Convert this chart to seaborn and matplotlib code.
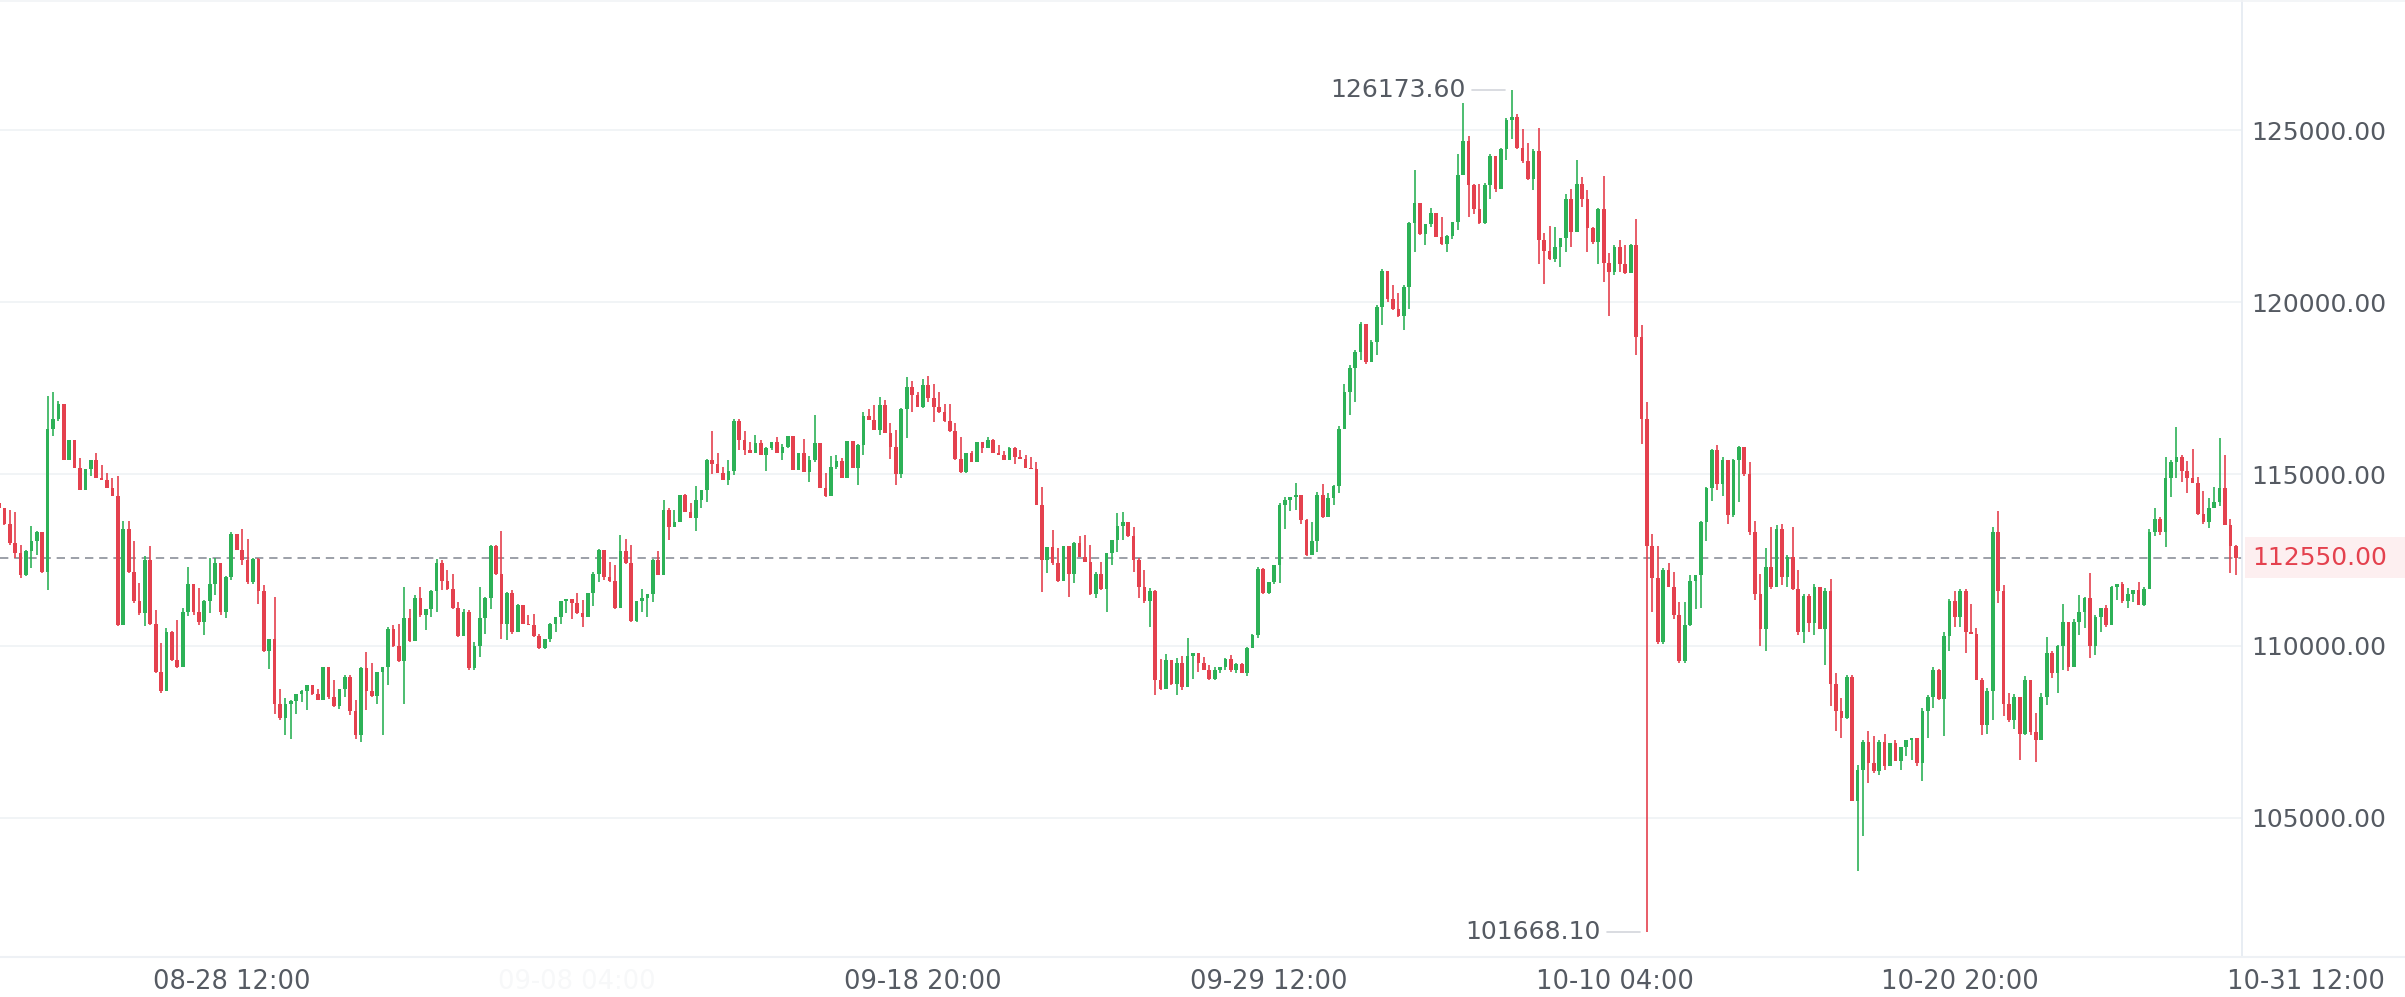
import numpy as np
import pandas as pd
import matplotlib
matplotlib.use("Agg")
import matplotlib.pyplot as plt
from matplotlib.lines import Line2D
from matplotlib.patches import Rectangle
from matplotlib.transforms import blended_transform_factory
import seaborn as sns

# ---------------- data (4h candles) ----------------
first_open = 114150
closes = [
114000,113560,113000,112700,112050,112750,113050,113300,112150,116300,
116600,117050,115420,116000,115180,114550,115150,115400,114900,114840,
114600,114360,110600,113400,112150,111300,110950,112500,110650,109250,
108700,110400,109600,109380,111000,111800,111000,110700,111300,111800,
112400,111000,112000,113250,112800,112500,111850,112540,111600,109850,
110200,108300,107900,108300,108400,108600,108700,108850,108600,108420,
109380,108500,108250,108750,109100,108100,107400,109350,108700,108550,
109240,109380,110500,110000,109550,110800,110150,111400,110900,111080,
111600,112400,111900,111650,111100,110300,111000,109350,110000,110800,
111400,112900,112100,110650,111550,110400,111200,110650,110600,110280,
109930,110200,110650,110840,111300,111370,111250,110950,110850,111540,
112100,112800,112000,111900,111100,112750,112400,110720,111300,111400,
111520,112500,112060,113950,113450,113600,114380,113910,113710,114250,
114530,115400,115300,115030,114830,115100,116550,116000,115700,115620,
115900,115560,115770,115930,115600,115800,116100,115120,115600,115070,
115400,115900,114600,114350,115200,115380,114880,115950,115170,115850,
116700,116570,116290,117000,116200,115800,115000,116900,117540,117300,
116960,117600,117200,116950,116800,116550,116240,115450,115050,115600,
115360,115930,115760,116000,115610,115560,115410,115750,115500,115430,
115170,115140,114100,112500,112880,112400,111900,112900,112100,113000,
112600,112450,111500,112100,111650,112700,113070,113500,113600,113200,
112500,111700,111300,111600,109000,108750,109600,108900,109500,108800,
109700,109800,109500,109300,109050,109300,109380,109630,109300,109480,
109220,109950,110330,112250,111550,111860,112340,114100,114250,114330,
114400,113650,112650,113050,114400,113750,114300,114650,116300,117400,
118100,118550,119380,118250,118850,119850,120900,120100,119800,119600,
120450,122300,122900,122000,122280,122600,121900,121700,121940,122330,
123700,124700,123400,122700,122300,123400,124250,123300,124450,125300,
125400,124500,124100,123600,124400,121800,121500,121250,121600,121870,
123000,122050,123450,123000,122150,121750,122700,121150,120880,121600,
121100,120850,121680,118985,116600,112900,111980,110100,112200,111700,
110900,109550,110600,111900,112050,113600,114600,115700,114700,115400,
113800,115400,115800,115000,113300,111500,110500,112300,111700,113400,
112000,112600,111650,110400,111450,110680,111700,110500,111600,108900,
108100,107900,109100,105500,106400,107200,106600,106350,107200,106500,
107170,106660,107050,107260,107310,106600,108100,108500,109300,108450,
110300,111300,110850,111600,110400,110360,109000,107700,108700,113300,
111600,108300,107850,108500,107450,109000,107500,107250,108500,109800,
109200,110000,110700,109400,110700,111000,111400,110000,110850,111100,
110600,111700,111800,111300,111500,111620,111200,111650,113300,113700,
113300,114900,115350,115500,115100,114900,114750,113850,113600,114000,
114200,114600,113520,112900,112550]
highs = [
114160,113960,113940,113910,112940,112800,113480,113330,113280,117260,
117400,117120,116970,116000,115850,115470,115150,115420,115610,115270,
115030,114880,114930,113620,113620,113040,111830,112610,112900,111050,
110080,110520,110420,110760,111100,112310,111780,111680,111340,112560,
112560,112410,112020,113320,113270,113410,113120,112560,112570,111765,
110213,111426,108760,108470,108420,108613,108710,108860,108810,108760,
109390,109150,109000,108760,109150,109150,108420,109390,109825,109490,
109244,109389,110553,110600,110650,111700,111086,111474,111700,111086,
111640,112541,112493,112202,112105,111280,111086,111057,110116,111717,
111426,112930,112930,113347,111571,111640,111232,111038,110890,110922,
110340,110213,110670,110844,111310,111377,111310,111542,111329,111542,
112153,112832,112609,112444,112347,113220,113123,112929,111310,111668,
111523,112541,112765,114258,114025,113967,114389,114418,114146,114651,
114534,115427,116261,115600,115213,115407,116591,116591,116261,115941,
116135,116000,115776,115941,116067,115873,116100,115844,115621,116009,
115524,116717,115900,115039,115524,115553,115456,115970,115892,115873,
116814,116882,117008,117231,117153,116474,116280,116911,117832,117716,
117396,117755,117852,117619,117396,117037,117037,116494,116067,115621,
115679,115941,115912,116067,116009,115844,115679,115776,115776,115698,
115553,115504,115359,114631,112885,113370,112836,112905,112788,113031,
113196,113225,112934,112158,112449,112711,113079,113855,113904,113600,
113448,112546,112206,111673,111624,109607,109762,109568,109636,109704,
110218,109800,109800,109665,109442,109393,109393,109636,109733,109490,
109490,109976,110344,112303,112255,111867,112352,114146,114321,114340,
114728,114400,113681,113613,114486,114709,114437,114680,116400,117628,
118162,118598,119423,118889,118889,119908,120975,120900,120490,120266,
120490,122333,123855,122900,122284,122750,122600,122478,121945,122333,
124321,125795,124825,123429,123429,123467,124302,124250,124496,125369,
126173.6,125485,125048,124631,124467,125078,122012,122206,122187,121877,
123138,123303,124127,123632,123270,122198,122742,123682,121424,121655,
121819,121655,121704,122413,119347,117090,113250,112920,112261,112426,
112146,111272,111272,112063,112063,113629,114618,115722,115854,115491,
115400,115442,115821,115800,115359,113629,112096,112854,113464,113513,
113546,112640,113465,112207,111510,111510,111800,111723,111675,111936,
109206,108480,109158,109158,106544,107250,107512,107386,107251,107444,
107174,107251,107057,107270,107319,107222,108190,108577,109380,109322,
110416,111355,111607,111646,111650,111220,110513,109061,108771,113465,
113930,111771,108626,108606,108500,109128,109000,108043,108643,110252,
109864,110029,111221,110700,110775,111483,111434,112112,110901,111100,
111192,111744,111802,111870,111676,111628,111870,111705,113391,114002,
113760,115485,115407,116357,115552,115388,115717,114903,114515,114293,
114612,116037,115552,113682,112936]
lows = [
113950,113520,112940,112550,111970,112020,112270,112650,112120,111630,
116100,116530,115400,115500,115170,114540,114660,114930,114880,114830,
114590,114350,110570,111630,112120,111250,110900,110570,110620,109210,
108630,109690,109550,109350,109400,110860,110900,110620,110330,110950,
111490,110900,110810,111910,112780,112350,111810,111814,111230,109820,
109340,108030,107840,107400,107300,108030,108370,108130,108560,108420,
108420,108467,108225,108177,108516,107980,107300,107206,108128,108516,
108322,107400,108855,109970,109534,108320,110116,110650,110844,110475,
110844,110989,111620,111620,111086,110262,110300,109292,109311,109680,
110359,111086,112056,110213,110165,110340,110400,110650,110600,110262,
109922,109900,110116,110407,110650,110960,110795,110941,110553,110844,
111154,111862,111911,111862,111086,111100,112376,110698,110698,111000,
110844,111280,112056,112060,113094,113460,113613,113904,113710,113351,
114000,114195,115000,115020,114825,114680,114971,115698,115553,115610,
115630,115553,115097,115700,115600,115407,115750,115116,115136,115068,
114777,115359,114583,114321,114350,115136,114874,114874,115165,114680,
115553,116570,116280,116135,116183,115427,114680,114900,116038,116814,
116959,116911,117105,116523,116785,116523,116232,115407,115039,115039,
115359,115359,115610,115747,115601,115553,115407,115456,115291,115427,
115165,115136,114098,111576,112109,112352,111867,111900,111430,111818,
112594,112449,111479,111382,111624,110994,112352,112740,113079,113157,
112158,111382,111236,110557,108569,108714,108734,108860,108569,108714,
108800,109025,109248,109296,109005,109000,109200,109296,109248,109200,
109200,109122,109927,110218,111508,111508,111799,111838,113390,113933,
113952,113545,112614,112650,112740,113710,113750,114098,114437,116318,
116707,117095,118307,118210,118250,118452,119326,120005,119762,119568,
119180,119810,121460,121945,121654,122187,121896,121654,121460,121848,
122090,123690,122478,122575,122265,122265,123012,123205,123300,124127,
124757,124467,124049,123545,123273,121120,120538,121217,121169,121023,
121460,121605,122034,122775,121457,121704,121127,120600,119611,120798,
120880,120830,120880,118457,115887,101668.1,110992,110053,110053,111700,
110778,109509,109509,110580,111074,111107,113052,114206,114535,114370,
113546,113744,114173,114947,113217,111322,110003,109838,111651,111700,
111767,111701,111626,110319,110077,110416,110319,110484,109448,108258,
107512,107319,107870,105479,103447,104463,106012,106302,106254,106399,
106574,106641,106399,106786,106670,106515,106060,107319,108190,108412,
107367,109864,110542,110542,109806,110348,108993,107416,107444,107851,
111258,107967,107774,107580,106690,107413,107413,106609,107250,108285,
109060,108624,109302,109283,109400,110320,110514,109641,109738,110400,
110562,110600,111337,111240,111095,111289,111192,111163,111647,113198,
113227,112868,114322,114874,114777,114457,114729,113808,113546,113421,
114000,114070,113517,112132,112064]

tick_pos = [43, 171, 235, 299, 363, 427]
tick_labels = ["08-28 12:00", "09-18 20:00", "09-29 12:00", "10-10 04:00", "10-20 20:00", "10-31 12:00"]
faint_tick_pos = 107
faint_tick_label = "09-08 04:00"
y_ticks = [105000, 110000, 115000, 120000, 125000]
last_price = 112550.00
max_price, max_idx = 126173.60, 280
min_price, min_idx = 101668.10, 305

# ---------------- build frame ----------------
n = len(closes)
opens = [first_open] + closes[:-1]
df = pd.DataFrame({"i": np.arange(n), "open": opens, "close": closes, "high": highs, "low": lows})
df["high"] = df[["high", "open", "close"]].max(axis=1)
df["low"] = df[["low", "open", "close"]].min(axis=1)
df["up"] = df["close"] >= df["open"]

GREEN = "#2db157"
RED = "#e4414e"
TXT = "#555a62"

sns.set_theme(style="white")
plt.rcParams["font.family"] = ["DejaVu Sans"]

W, H = 2405, 997
fig = plt.figure(figsize=(W / 100, H / 100), dpi=100)
fig.patch.set_facecolor("white")
plot_right = 2242
plot_bottom = 957
ax = fig.add_axes([0, (H - plot_bottom) / H, plot_right / W, plot_bottom / H])
ax.set_facecolor("white")

px_per_candle = 5.403
ax.set_xlim((0 + 1) / px_per_candle, (plot_right + 1) / px_per_candle)
ax.set_ylim(100947, 128795)

for v in y_ticks:
    ax.axhline(v, color="#f0f3f6", lw=1.3, zorder=0)

colors = np.where(df["up"], GREEN, RED)
ax.vlines(df["i"], df["low"], df["high"], colors=colors, lw=1.2, zorder=2)
body_h = (df["close"] - df["open"]).abs().clip(lower=45)
ax.bar(df["i"], body_h, bottom=df[["open", "close"]].min(axis=1), width=0.68,
       color=colors, linewidth=0, zorder=3)

ln = ax.axhline(last_price, color="#8b9099", lw=1.2, zorder=1)
ln.set_dashes((5, 3.5))

ax.set_yticks(y_ticks)
ax.set_yticklabels([f"{v:.2f}" for v in y_ticks])
ax.yaxis.tick_right()
ax.tick_params(axis="y", length=0, pad=7, labelsize=18, labelcolor=TXT)
ax.set_xticks([])
for s in ["left", "top", "bottom"]:
    ax.spines[s].set_visible(False)
ax.spines["right"].set_color("#e6ecf2")
ax.spines["right"].set_linewidth(1.3)

fig.add_artist(Rectangle((2245 / W, 1 - 578 / H), (W - 2245) / W, 41 / H,
                         transform=fig.transFigure, facecolor="#fdeff0", edgecolor="none", zorder=0))
tr_y = blended_transform_factory(ax.transAxes, ax.transData)
ax.text((plot_right + 10) / plot_right, last_price, f"{last_price:.2f}", transform=tr_y,
        ha="left", va="center", fontsize=18, color=RED, clip_on=False, zorder=5)

fig.add_artist(Line2D([0, 1], [(H - plot_bottom) / H] * 2, transform=fig.transFigure, color="#eef1f5", lw=1.5))
fig.add_artist(Line2D([0, 1], [1 - 0.6 / H] * 2, transform=fig.transFigure, color="#f1f3f6", lw=1.2))

tr_x = blended_transform_factory(ax.transData, ax.transAxes)
ylab = -25 / plot_bottom
for p, lab in zip(tick_pos, tick_labels):
    ax.text(p, ylab, lab, transform=tr_x, ha="center", va="center", fontsize=18.5,
            color=TXT, clip_on=False)
ax.text(faint_tick_pos, ylab, faint_tick_label, transform=tr_x, ha="center", va="center",
        fontsize=18.5, color="#f7f8f9", clip_on=False)

ax.plot([max_idx - 7.4, max_idx - 1.2], [max_price, max_price], color="#d3d6db", lw=1.2, zorder=4)
ax.text(max_idx - 8.6, max_price, f"{max_price:.2f}", ha="right", va="center", fontsize=18, color=TXT)
ax.plot([min_idx - 7.4, min_idx - 1.2], [min_price, min_price], color="#d3d6db", lw=1.2, zorder=4)
ax.text(min_idx - 8.6, min_price, f"{min_price:.2f}", ha="right", va="center", fontsize=18, color=TXT)

fig.savefig("out.png", dpi=100, facecolor="white")
